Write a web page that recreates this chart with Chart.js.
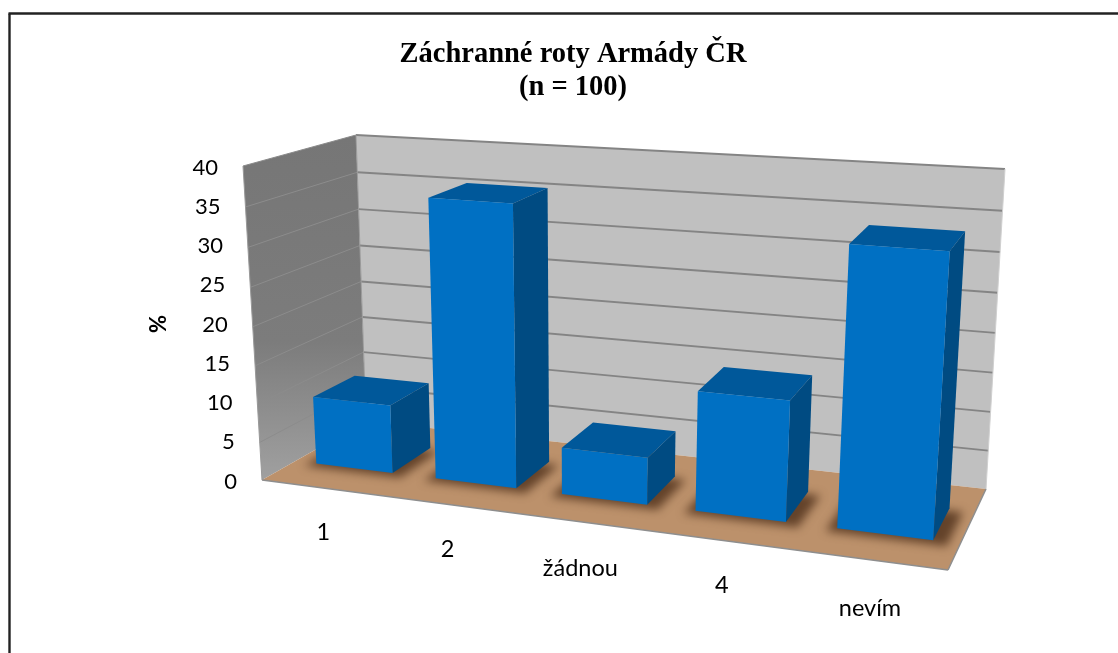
<!DOCTYPE html>
<html><head><meta charset="utf-8">
<style>html,body{margin:0;padding:0;background:#fff}#w{width:1118px;height:653px;position:relative}</style>
<script src="https://cdn.jsdelivr.net/npm/chart.js@4"></script>
</head><body><div id="w"><canvas id="c" width="1118" height="653"></canvas></div>
<script>
const categories = ['1', '2', 'žádnou', '4', 'nevím'];
const seriesValues = [9, 36, 6, 15, 34];
const titleLines = ['Záchranné roty Armády ČR', '(n = 100)'];
const yAxisTitle = '%';
const yMax = 40, yStep = 5;

// Viewing box of the 3D projection: [bottom, top] screen corners
const box = {
  frontLeft:  [[262,480],[243,166]],
  frontRight: [[948,570],[970,214]],
  backLeft:   [[366,421],[356,135]],
  backRight:  [[986,489],[1005,169]]
};
const kU = 1.155, kV = 1.05;          // perspective foreshortening
const depthFront = 0.325, depthBack = 0.725;   // bar depth in the floor
const labelNudge = [[1,0],[0,0],[0,2],[1,0],[0,4]];

function lerp(a,b,t){return a+(b-a)*t;}
function project(u,t,w){ // u across, t up (0..1), w depth (0..1)
  const s=u/(u+kU*(1-u)), h=t/(t+kV*(1-t));
  const out=[];
  for(const i of [0,1]){
    const fl=lerp(box.frontLeft[0][i],box.frontLeft[1][i],h);
    const fr=lerp(box.frontRight[0][i],box.frontRight[1][i],h);
    const bl=lerp(box.backLeft[0][i],box.backLeft[1][i],h);
    const br=lerp(box.backRight[0][i],box.backRight[1][i],h);
    out.push(lerp(lerp(fl,fr,s),lerp(bl,br,s),w));
  }
  return out;
}
function poly(ctx,pts,fill,stroke,lw){
  ctx.beginPath();pts.forEach((p,i)=>i?ctx.lineTo(p[0],p[1]):ctx.moveTo(p[0],p[1]));ctx.closePath();
  if(fill){ctx.fillStyle=fill;ctx.fill();}
  if(stroke){ctx.strokeStyle=stroke;ctx.lineWidth=lw||1;ctx.stroke();}
}
function line(ctx,a,b,c,lw){ctx.beginPath();ctx.moveTo(a[0],a[1]);ctx.lineTo(b[0],b[1]);ctx.strokeStyle=c;ctx.lineWidth=lw;ctx.stroke();}

const scene = {
  id:'scene',
  afterLayout(chart){ chart.titleBlock.left += 26; chart.titleBlock.right += 26; },
  beforeDraw(chart){
    const c=chart.ctx;c.save();
    c.fillStyle='#fff';c.fillRect(0,0,chart.width,chart.height);
    line(c,[9.5,653],[9.5,13.5],'#222',2.4);
    line(c,[8.5,13.5],[1118,13.5],'#222',2.4);
    c.restore();
  },
  beforeDatasetsDraw(chart){
    const c=chart.ctx,y=chart.scales.y;
    const T=v=>(y.bottom-y.getPixelForValue(v))/(y.bottom-y.top);
    c.save();
    // left wall
    const g=c.createLinearGradient(0,135,0,480);g.addColorStop(0,'#767676');g.addColorStop(.6,'#7c7c7c');g.addColorStop(1,'#a0a0a0');
    poly(c,[project(0,0,0),project(0,1,0),project(0,1,1),project(0,0,1)],g);
    // back wall
    poly(c,[project(0,0,1),project(0,1,1),project(1,1,1),project(1,0,1)],'#c0c0c0');
    // floor
    poly(c,[project(0,0,0),project(0,0,1),project(1,0,1),project(1,0,0)],'#bc916b');
    // gridlines
    y.ticks.forEach(t=>{
      const h=T(t.value);
      if(t.value>0){
        line(c,project(0,h,0),project(0,h,1),t.value===40?'#8a8a8a':'#8c8c8c',1);
        line(c,project(0,h,1),project(1,h,1),'#848484',1.9);
      }
    });
    // edges
    line(c,project(0,0,0),project(0,1,0),'#999',1);
    line(c,project(0,1,1),project(0,0,1),'#9a9a9a',1);
    line(c,project(1,0,1),project(1,1,1),'#d0d0d0',1);
    line(c,project(0,0,0),project(1,0,0),'#8e8e8e',1.5);
    line(c,project(1,0,0),project(1,0,1),'#8e8e8e',1.5);
    // tick labels follow the slanted wall edge
    c.fillStyle='#000';c.font='22px Lato';c.textAlign='right';c.textBaseline='middle';
    y.ticks.forEach(t=>{
      const h=T(t.value),p=project(0,h,0);
      c.fillText(t.label,p[0]-25,y.getPixelForValue(t.value)+0.5);
    });
    // category labels
    const x=chart.scales.x;
    c.textAlign='center';c.font='23.5px Lato';
    categories.forEach((lab,i)=>{
      const u=(x.getPixelForValue(i)-x.left)/(x.right-x.left),p=project(u,0,0);
      c.fillText(lab,p[0]+labelNudge[i][0],p[1]+45+labelNudge[i][1]);
    });
    c.restore();
  },
  beforeDatasetDraw(chart,args){
    const c=chart.ctx,x=chart.scales.x,y=chart.scales.y,meta=args.meta,ds=chart.data.datasets[args.index];
    const U=px=>(px-x.left)/(x.right-x.left), T=py=>(y.bottom-py)/(y.bottom-y.top);
    const floor=[project(0,0,0),project(0,0,1),project(1,0,1),project(1,0,0)];
    c.save();
    c.beginPath();floor.forEach((p,i)=>i?c.lineTo(p[0],p[1]):c.moveTo(p[0],p[1]));c.closePath();c.clip();
    c.filter='blur(5px)';
    meta.data.forEach(el=>{
      const a=U(el.x-el.width/2),b=U(el.x+el.width/2);
      poly(c,[project(a-.012,0,depthFront-.05),project(a-.012,0,depthBack-.03),project(b+.02,0,depthBack-.03),project(b+.02,0,depthFront-.05)],'rgba(70,40,20,.75)');
    });
    c.restore();
    c.save();
    meta.data.forEach(el=>{
      const a=U(el.x-el.width/2),b=U(el.x+el.width/2),t=T(el.y);
      poly(c,[project(a,t,depthFront),project(a,t,depthBack),project(b,t,depthBack),project(b,t,depthFront)],ds.topColor);
      poly(c,[project(b,0,depthFront),project(b,t,depthFront),project(b,t,depthBack),project(b,0,depthBack)],ds.sideColor);
      poly(c,[project(a,0,depthFront),project(a,t,depthFront),project(b,t,depthFront),project(b,0,depthFront)],ds.backgroundColor);
    });
    c.restore();
    return false;
  }
};

new Chart(document.getElementById('c'),{
  type:'bar',
  data:{labels:categories,datasets:[{data:seriesValues,backgroundColor:'#0070c3',topColor:'#00589a',sideColor:'#004b82',barPercentage:0.645,categoryPercentage:1}]},
  plugins:[scene],
  options:{
    responsive:false,animation:false,
    layout:{padding:{left:146,right:170,top:0,bottom:172}},
    plugins:{
      legend:{display:false},tooltip:{enabled:false},
      title:{display:true,text:titleLines,color:'#000',font:{family:'Liberation Serif',weight:'bold',size:28.5,lineHeight:'33px'},padding:{top:38,bottom:63}}
    },
    scales:{
      x:{display:false},
      y:{min:0,max:yMax,ticks:{stepSize:yStep,display:false},grid:{display:false},border:{display:false},
         title:{display:true,text:yAxisTitle,color:'#000',font:{family:'Lato',weight:'bold',size:22},padding:0},
         afterFit(s){s.width=262-146;}}
    }
  }
});
</script></body></html>
